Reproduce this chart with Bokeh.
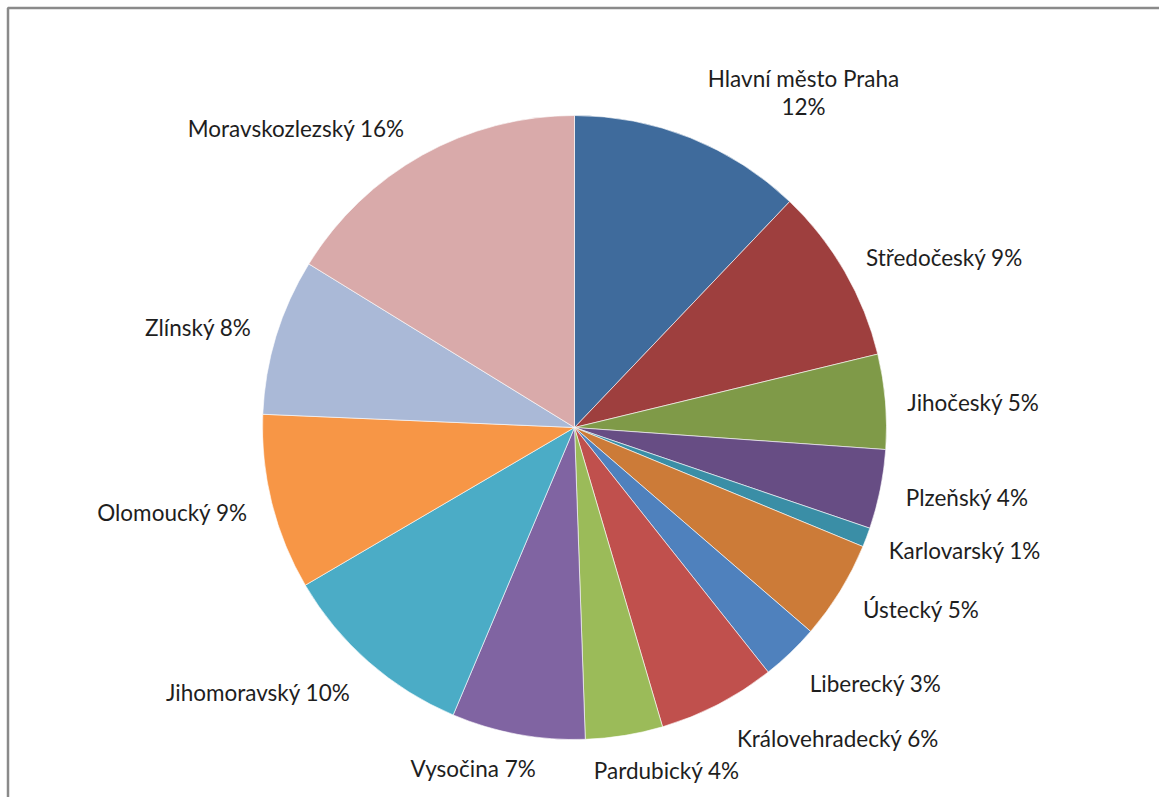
import math
from bokeh.plotting import figure
from bokeh.models import Range1d, ColumnDataSource
from bokeh.core.properties import value
from bokeh.embed import file_html
from bokeh.resources import INLINE

# ---- data ----
regions = ["Hlavní město Praha", "Středočeský", "Jihočeský", "Plzeňský", "Karlovarský",
           "Ústecký", "Liberecký", "Královehradecký", "Pardubický", "Vysočina",
           "Jihomoravský", "Olomoucký", "Zlínský", "Moravskozlezský"]
shares = [12.1, 9.1, 4.9, 4.1, 1.0, 5.1, 3.0, 6.1, 4.0, 6.9, 10.2, 9.1, 8.1, 16.2]
colors = ["#3F6B9C", "#9E3F3E", "#7F9A48", "#674D84", "#3A8EA6", "#CC7B38",
          "#4F81BD", "#C0504D", "#9BBB59", "#8064A2", "#4BACC6", "#F79646",
          "#AAB9D7", "#D9AAAA"]

# ---- layout ----
W, H = 1159, 797
cx, cy = 574, H - 427
R = 312
RL = 340
# label nudges (dx, dy in px; dy positive = up)
nudges = [(0, 0), (-3, 0), (-6, -3), (-2, -3), (-4, -3), (-1, -4), (0, -11),
          (6, -9), (-35, -7), (23, -7), (0, -9), (3, -3), (2, 0), (-4, 2)]

total = sum(shares)
cum = 0.0
starts, ends, lx, ly, ltxt, lalign = [], [], [], [], [], []
for i, (name, s) in enumerate(zip(regions, shares)):
    a0 = cum / total * 2 * math.pi
    cum += s
    a1 = cum / total * 2 * math.pi
    starts.append(math.pi / 2 - a1)
    ends.append(math.pi / 2 - a0)
    mid = (a0 + a1) / 2
    x = cx + RL * math.sin(mid) + nudges[i][0]
    y = cy + RL * math.cos(mid) + nudges[i][1]
    pct = f"{round(s / total * 100):.0f}%"
    if i == 0:
        ltxt.append(f"{name}\n{pct}")
        lalign.append("center")
        x = cx + 229
        y = cy + 335
    else:
        ltxt.append(f"{name} {pct}")
        lalign.append("left" if math.sin(mid) >= 0 else "right")
    lx.append(x)
    ly.append(y)

src = ColumnDataSource(dict(start=starts, end=ends, color=colors))
lsrc = ColumnDataSource(dict(x=lx, y=ly, text=ltxt, align=lalign))

p = figure(width=W, height=H, output_backend="svg", toolbar_location=None,
           x_range=Range1d(0, W), y_range=Range1d(0, H), min_border=0,
           tools="")
p.axis.visible = False
p.grid.visible = False
p.outline_line_color = None
p.background_fill_color = "white"

# chart frame (extends beyond the visible area on right/bottom)
p.quad(left=[7.5], right=[W + 20], bottom=[-20], top=[H - 7.5],
       fill_color=None, line_color="#8a8a8a", line_width=2.5)

p.wedge(x=cx, y=cy, radius=R, start_angle="start", end_angle="end",
        fill_color="color", line_color="white", line_width=0.6, source=src)

p.text(x="x", y="y", text="text", text_align="align", text_baseline="middle",
       text_font=value("Lato"), text_font_size="22.5px", text_color="#1e1e1e",
       text_line_height=1.07, source=lsrc)

open("out.html", "w").write(file_html(p, INLINE))
